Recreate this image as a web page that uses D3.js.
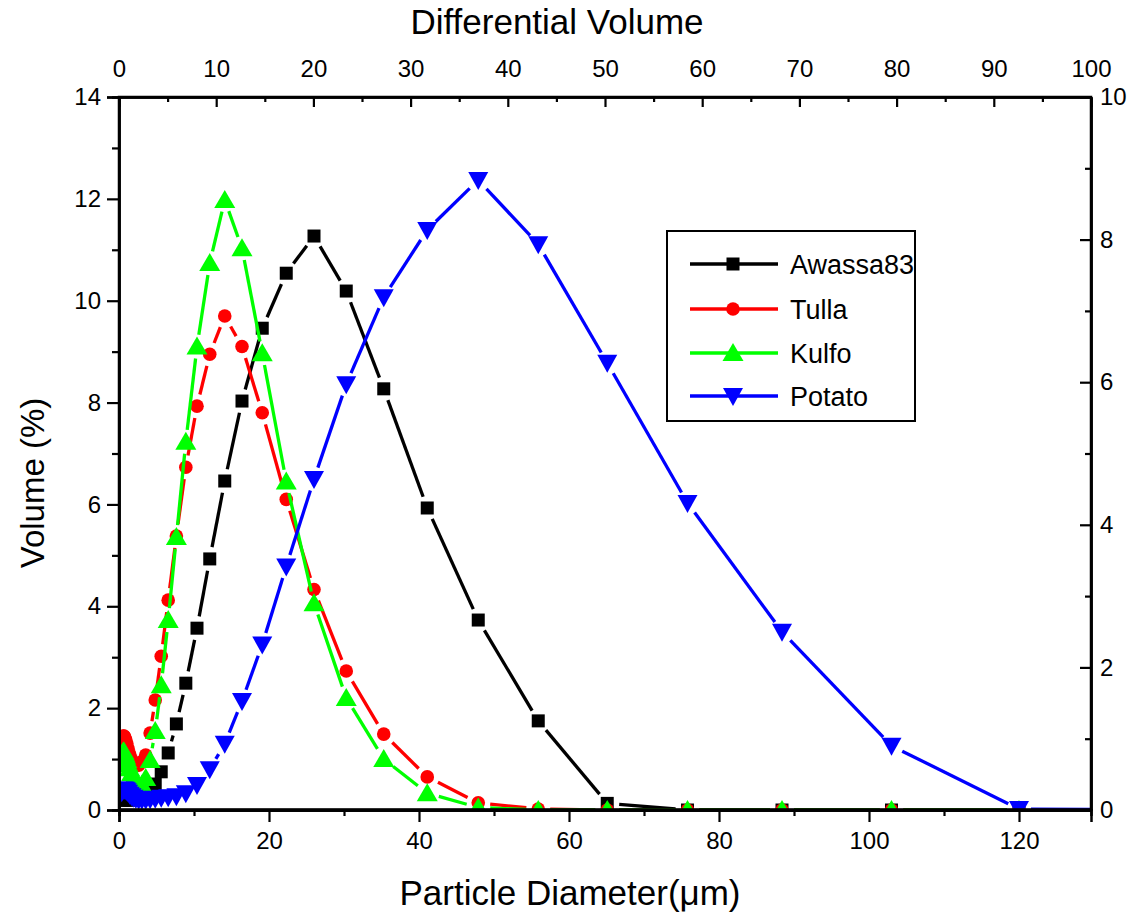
<!DOCTYPE html>
<html><head><meta charset="utf-8">
<script src="https://cdn.jsdelivr.net/npm/d3@7"></script>
<style>body{margin:0;background:#fff} text{font-family:"Liberation Sans",Arial,sans-serif;fill:#000}</style>
</head><body><svg id="c" width="1138" height="918"></svg>
<script>
// Particle diameter bins (µm)
const diameters = [0.36,0.42,0.49,0.57,0.66,0.77,0.90,1.05,1.22,1.42,1.66,1.93,2.25,2.62,3.05,3.56,4.15,4.83,5.63,6.56,7.65,8.91,10.4,12.1,14.1,16.4,19.1,22.3,26.0,30.3,35.3,41.1,47.9,55.9,65.1,75.8,88.4,103.0,120.0,140.0];
const awassa83 = [0.2,0.2,0.2,0.2,0.2,0.2,0.2,0.2,0.2,0.2,0.2,0.2,0.22,0.25,0.3,0.36,0.43,0.51,0.75,1.12,1.69,2.49,3.57,4.93,6.46,8.03,9.46,10.54,11.27,10.19,8.27,5.93,3.73,1.75,0.13,0,0,0,0,0];
const tulla = [1.2,1.35,1.42,1.45,1.45,1.43,1.38,1.3,1.2,1.1,1.0,0.92,0.87,0.88,0.95,1.08,1.51,2.16,3.02,4.12,5.38,6.73,7.93,8.95,9.70,9.10,7.80,6.10,4.33,2.73,1.49,0.65,0.14,0.02,0,0,0,0,0,0];
const kulfo = [0.9,1.05,1.12,1.15,1.15,1.1,1.05,0.98,0.9,0.82,0.72,0.62,0.55,0.5,0.5,0.63,0.98,1.55,2.45,3.73,5.36,7.23,9.10,10.74,11.98,11.03,8.97,6.45,4.06,2.2,1.0,0.33,0.05,0,0,0,0,0,0,0];
const potato = [0.35,0.38,0.4,0.4,0.4,0.4,0.39,0.37,0.34,0.3,0.27,0.24,0.22,0.2,0.2,0.2,0.21,0.22,0.24,0.25,0.27,0.33,0.49,0.8,1.3,2.14,3.25,4.78,6.5,8.36,10.07,11.39,12.37,11.11,8.78,6.03,3.5,1.26,0.02,0];
const seriesNames = ["Awassa83","Tulla","Kulfo","Potato"];
const seriesColors = ["#000000","#ff0000","#00ff00","#0000ff"];
const seriesShapes = ["square","circle","triangleUp","triangleDown"];
const xTicks = [0,20,40,60,80,100,120];
const xMinor = [10,30,50,70,90,110];
const yTicks = [0,2,4,6,8,10,12,14];
const yMinor = [1,3,5,7,9,11,13];
const topTicks = [0,10,20,30,40,50,60,70,80,90,100];
const topMinor = [5,15,25,35,45,55,65,75,85,95];
const rightTicks = [0,2,4,6,8,10];
const rightMinor = [1,3,5,7,9];

const svg = d3.select("#c");
const L=119, R=1091, T=97, B=810;
const x = d3.scaleLinear().domain([0,129.6]).range([L,R]);
const y = d3.scaleLinear().domain([0,14]).range([B,T]);
const xTop = d3.scaleLinear().domain([0,100]).range([L,R]);
const yR = d3.scaleLinear().domain([0,10]).range([B,T]);

svg.append("clipPath").attr("id","clip").append("rect").attr("x",L).attr("y",T).attr("width",R-L).attr("height",B-T);

const allSeries = [awassa83,tulla,kulfo,potato];
const plot = svg.append("g").attr("clip-path","url(#clip)");
const gap = 12;

function marker(g, shape, cx, cy, color){
  if(shape==="square") g.append("rect").attr("x",cx-6.5).attr("y",cy-6.5).attr("width",13).attr("height",13).attr("fill",color);
  else if(shape==="circle") g.append("circle").attr("cx",cx).attr("cy",cy).attr("r",6.8).attr("fill",color);
  else if(shape==="triangleUp") g.append("path").attr("d",`M${cx},${cy-10}L${cx+10.5},${cy+8}L${cx-10.5},${cy+8}Z`).attr("fill",color);
  else g.append("path").attr("d",`M${cx},${cy+10}L${cx+10},${cy-8}L${cx-10},${cy-8}Z`).attr("fill",color);
}

allSeries.forEach((vals,si)=>{
  const g = plot.append("g");
  const pts = diameters.map((d,i)=>[x(d),y(vals[i])]);
  for(let i=0;i<pts.length-1;i++){
    const [x1,y1]=pts[i],[x2,y2]=pts[i+1];
    const dx=x2-x1, dy=y2-y1, len=Math.hypot(dx,dy);
    if(len<=2*gap+1) continue;
    const ux=dx/len, uy=dy/len;
    g.append("line").attr("x1",x1+ux*gap).attr("y1",y1+uy*gap).attr("x2",x2-ux*gap).attr("y2",y2-uy*gap)
      .attr("stroke",seriesColors[si]).attr("stroke-width",3.3);
  }
  pts.forEach(p=>marker(g,seriesShapes[si],p[0],p[1],seriesColors[si]));
});

// Axes
const fs = 24;
svg.append("g").attr("transform",`translate(${L},0)`)
  .call(d3.axisLeft(y).tickValues(yTicks).tickSize(12).tickPadding(6));
svg.append("g").attr("transform",`translate(${L},0)`)
  .call(d3.axisLeft(y).tickValues(yMinor).tickSize(7).tickFormat(""));
svg.append("g").attr("transform",`translate(0,${B})`)
  .call(d3.axisBottom(x).tickValues(xTicks).tickSize(12).tickPadding(10));
svg.append("g").attr("transform",`translate(0,${B})`)
  .call(d3.axisBottom(x).tickValues(xMinor).tickSize(6).tickFormat(""));
svg.append("g").attr("transform",`translate(0,${T})`)
  .call(d3.axisTop(xTop).tickValues(topTicks).tickSizeInner(-10).tickSizeOuter(0).tickPadding(20));
svg.append("g").attr("transform",`translate(0,${T})`)
  .call(d3.axisTop(xTop).tickValues(topMinor).tickSizeInner(-5).tickSizeOuter(0).tickFormat(""));
svg.append("g").attr("transform",`translate(${R},0)`)
  .call(d3.axisRight(yR).tickValues(rightTicks).tickSizeInner(-11).tickSizeOuter(0).tickPadding(9));
svg.append("g").attr("transform",`translate(${R},0)`)
  .call(d3.axisRight(yR).tickValues(rightMinor).tickSizeInner(-6).tickSizeOuter(0).tickFormat(""));

svg.selectAll(".domain").attr("stroke","#000").attr("stroke-width",2.5);
svg.selectAll(".tick line").attr("stroke","#000").attr("stroke-width",2.2);
svg.selectAll(".tick text").attr("font-size",fs).attr("font-family","'Liberation Sans',Arial,sans-serif").attr("fill","#000");
// frame
svg.append("rect").attr("x",L).attr("y",T).attr("width",R-L).attr("height",B-T).attr("fill","none").attr("stroke","#000").attr("stroke-width",2.5);
svg.append("line").attr("x1",L-1).attr("x2",R+1).attr("y1",B).attr("y2",B).attr("stroke","#000").attr("stroke-width",3.5);

// Titles
svg.append("text").attr("x",557).attr("y",34).attr("text-anchor","middle").attr("font-size",35).text("Differential Volume");
svg.append("text").attr("x",570).attr("y",905).attr("text-anchor","middle").attr("font-size",35).text("Particle Diameter(μm)");
svg.append("text").attr("transform","translate(44,483) rotate(-90)").attr("text-anchor","middle").attr("font-size",33).text("Volume (%)");

// Legend
const lg = svg.append("g");
lg.append("rect").attr("x",667).attr("y",231).attr("width",248).attr("height",190).attr("fill","#fff").attr("stroke","#000").attr("stroke-width",2);
const legY = [264,309,353,396];
seriesNames.forEach((n,i)=>{
  lg.append("line").attr("x1",690).attr("x2",778).attr("y1",legY[i]).attr("y2",legY[i]).attr("stroke",seriesColors[i]).attr("stroke-width",3.3);
  marker(lg,seriesShapes[i],733,legY[i],seriesColors[i]);
  lg.append("text").attr("x",790).attr("y",legY[i]+10).attr("font-size",27).text(n);
});
</script></body></html>
